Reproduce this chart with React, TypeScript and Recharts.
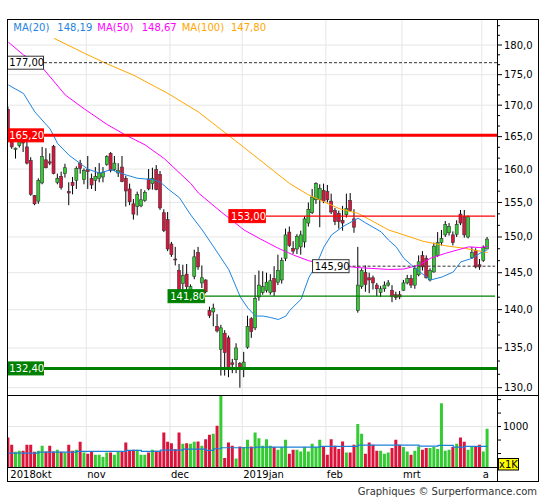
import React from "react";
import {
  ComposedChart,
  Bar,
  Line,
  XAxis,
  YAxis,
  ReferenceLine,
  Cell,
} from "recharts";

// daily candles, 3 Oct 2018 .. 2 Apr 2019
const OPEN = [
  169.3, 164.2, 163.0, 163.6, 164.3, 163.4, 161.3, 156.0, 155.2, 157.9,
  161.4, 161.1, 163.5, 158.0, 158.9, 159.3, 156.6, 158.0, 158.3, 160.9,
  158.4, 159.9, 158.6, 158.3, 158.6, 158.8, 160.7, 162.4, 159.9, 159.4,
  160.3, 158.6, 157.0, 154.8, 154.4, 154.5, 155.3, 158.5, 157.8, 159.9,
  159.2, 153.5, 152.5, 149.0, 146.9, 145.3, 143.5, 144.8, 142.6, 144.5,
  147.8, 143.6, 144.0, 139.9, 139.7, 137.8, 134.8, 136.9, 136.3, 133.1,
  133.5, 133.0, 132.5, 135.1, 138.8, 137.6, 141.7, 142.3, 142.6, 142.3,
  144.2, 143.7, 144.0, 147.0, 150.7, 148.4, 148.3, 148.6, 149.3, 152.0,
  153.5, 155.4, 155.4, 156.8, 156.6, 155.2, 153.8, 153.4, 152.4, 153.2,
  155.3, 152.6, 139.9, 143.1, 145.0, 144.3, 144.3, 143.3, 142.3, 142.8,
  143.3, 142.6, 142.0, 142.0, 142.6, 143.6, 144.2, 143.3, 144.7, 147.4,
  147.0, 144.0, 145.1, 147.4, 149.2, 150.3, 150.6, 150.3, 150.4, 153.3,
  152.9, 150.0, 147.1, 148.1, 146.1, 146.7, 148.3,
];
const HIGH = [
  169.8, 164.6, 163.3, 164.8, 165.2, 164.2, 161.8, 156.1, 158.6, 163.4,
  163.2, 162.4, 163.7, 159.3, 159.6, 160.8, 158.0, 158.8, 160.4, 161.4,
  160.1, 162.0, 159.3, 160.3, 160.9, 160.3, 162.1, 162.6, 162.0, 160.9,
  162.0, 159.0, 157.8, 155.5, 156.6, 157.0, 156.8, 160.0, 160.2, 160.6,
  159.7, 154.0, 153.6, 149.3, 148.6, 146.2, 146.1, 146.2, 143.4, 148.2,
  148.6, 146.0, 144.1, 140.4, 140.8, 139.4, 138.0, 137.3, 136.6, 133.6,
  135.6, 133.2, 134.5, 139.2, 139.0, 144.7, 145.3, 145.2, 145.0, 144.8,
  145.9, 147.5, 147.1, 151.2, 151.5, 149.4, 150.4, 150.9, 153.0, 155.0,
  157.0, 158.0, 157.7, 157.8, 157.6, 156.3, 154.2, 153.8, 154.5, 156.3,
  156.4, 154.0, 148.6, 145.6, 146.0, 145.0, 144.6, 143.6, 143.2, 143.8,
  144.0, 143.3, 142.4, 142.5, 144.0, 144.7, 144.7, 146.0, 147.4, 148.0,
  147.4, 145.6, 149.2, 150.7, 151.0, 152.3, 152.0, 150.8, 152.4, 153.9,
  153.9, 153.1, 148.6, 148.4, 146.9, 148.8, 150.0,
];
const LOW = [
  164.5, 163.1, 161.6, 163.3, 162.6, 160.7, 156.0, 154.6, 154.8, 157.7,
  160.1, 160.6, 159.2, 157.7, 156.9, 158.7, 154.6, 156.2, 157.0, 159.3,
  157.7, 157.0, 157.0, 156.7, 158.0, 158.0, 160.5, 159.5, 159.7, 158.8,
  158.0, 154.4, 154.6, 152.5, 153.1, 154.3, 155.1, 156.8, 156.9, 156.8,
  153.9, 150.7, 148.0, 147.2, 146.0, 142.0, 142.5, 142.5, 142.3, 144.1,
  145.4, 142.9, 142.2, 138.9, 137.8, 137.0, 131.5, 131.5, 131.3, 131.8,
  131.8, 130.0, 131.3, 134.9, 136.3, 137.3, 141.2, 142.0, 142.3, 142.0,
  141.8, 143.3, 143.5, 146.6, 148.6, 147.6, 147.6, 147.5, 148.5, 151.5,
  153.3, 154.8, 151.4, 154.9, 155.0, 153.3, 151.7, 151.2, 150.9, 152.8,
  153.6, 150.6, 139.6, 142.8, 142.4, 142.2, 142.7, 141.8, 141.7, 142.4,
  143.1, 141.0, 141.3, 141.4, 142.5, 143.4, 142.9, 142.8, 144.5, 145.3,
  144.2, 143.8, 145.0, 147.2, 148.8, 150.0, 150.2, 148.8, 150.0, 151.7,
  149.9, 149.8, 146.9, 145.6, 145.4, 146.5, 148.3,
];
const CLOSE = [
  165.0, 163.4, 163.2, 164.2, 164.0, 160.9, 156.2, 154.8, 158.3, 161.9,
  160.2, 160.9, 159.3, 158.6, 157.2, 160.2, 156.4, 157.5, 160.1, 160.1,
  159.8, 159.6, 157.6, 158.9, 159.4, 159.5, 161.9, 159.8, 160.9, 159.8,
  158.1, 156.7, 155.1, 153.3, 156.2, 155.4, 156.5, 157.0, 158.6, 156.9,
  154.2, 150.9, 148.3, 147.5, 146.8, 142.6, 144.6, 143.1, 143.1, 147.2,
  145.8, 144.3, 142.4, 139.2, 140.2, 137.2, 137.6, 134.4, 132.3, 132.9,
  135.0, 132.5, 133.2, 137.8, 137.1, 141.5, 143.3, 143.1, 143.7, 143.9,
  142.4, 145.3, 146.7, 150.3, 148.8, 148.0, 150.1, 150.3, 152.6, 154.0,
  155.8, 157.8, 157.1, 155.2, 155.4, 153.6, 152.2, 152.2, 152.0, 154.1,
  153.8, 151.4, 143.3, 145.3, 143.4, 144.0, 143.6, 142.8, 142.8, 143.3,
  143.6, 141.8, 141.6, 141.7, 143.6, 144.2, 143.3, 145.6, 146.5, 145.8,
  144.3, 145.3, 148.7, 149.2, 149.8, 151.8, 151.5, 149.2, 151.8, 152.0,
  150.3, 152.9, 147.8, 145.8, 145.8, 148.5, 149.7,
];
// volume, thousands of shares
const VOLUME = [
  730, 549, 377, 402, 402, 549, 549, 377, 402, 525,
  385, 525, 385, 426, 377, 361, 549, 402, 426, 623,
  361, 328, 385, 303, 303, 246, 361, 361, 303, 385,
  385, 607, 402, 426, 426, 303, 303, 361, 426, 402,
  402, 853, 623, 590, 443, 853, 574, 590, 574, 623,
  631, 525, 689, 795, 820, 1017, 1763, 221, 607, 525,
  213, 508, 492, 672, 508, 853, 713, 525, 689, 525,
  492, 426, 492, 672, 328, 426, 426, 385, 492, 385,
  574, 492, 672, 492, 303, 689, 525, 443, 631, 361,
  361, 549, 1066, 820, 328, 607, 549, 402, 402, 328,
  361, 467, 672, 549, 492, 385, 303, 402, 508, 426,
  467, 467, 492, 443, 1574, 402, 426, 492, 574, 730,
  623, 426, 508, 492, 549, 385, 943,
];

// moving averages: [day index, value]
const MA20_PTS = [
  [0, 173.3], [4, 171.9], [7, 168.9], [11, 166.2], [13, 163.9], [16, 162.1],
  [19, 160.8], [21, 159.95], [24, 159.4], [27, 159.9], [31, 159.1], [34, 158.6],
  [38, 158.4], [40, 158.0], [42, 157.0], [45, 155.7], [48, 153.15], [51, 151.0],
  [54, 148.6], [58, 145.4], [61, 141.7], [63, 140.2], [65, 139.15], [67, 139.15],
  [69, 138.95], [71, 138.7], [73, 139.15], [74, 139.9], [77, 141.4], [79, 144.3],
  [81, 146.1], [83, 148.6], [85, 150.3], [88, 151.5], [92, 152.7], [94, 152.0],
  [98, 150.75], [100, 149.55], [102, 148.6], [104, 147.0], [107, 145.6],
  [110, 144.4], [111, 144.0], [114, 144.4], [117, 145.1], [119, 146.5],
  [122, 147.0], [124, 147.7], [126, 148.19],
];
const MA50_PTS = [
  [0, 180.5], [4, 178.3], [8, 176.9], [15, 171.65], [20, 169.4], [26, 166.9],
  [31, 165.2], [36, 163.7], [41, 161.6], [48, 157.8], [50, 156.4], [56, 153.6],
  [62, 151.0], [66, 149.8], [71, 148.4], [75, 147.45], [79, 146.65], [84, 146.15],
  [92, 145.7], [100, 145.45], [104, 145.5], [108, 146.05], [111, 147.0],
  [115, 147.7], [118, 148.15], [121, 148.6], [124, 148.5], [126, 148.67],
];
const MA100_PTS = [
  [12, 181.15], [20, 178.6], [26, 176.8], [33, 174.9], [42, 171.9], [50, 168.9],
  [62, 163.3], [74, 157.8], [79, 156.1], [83, 155.1], [87, 154.1], [92, 153.4],
  [96, 152.2], [100, 151.0], [104, 150.3], [109, 149.4], [115, 148.75],
  [120, 148.4], [126, 147.8],
];
const VOL_MA_PTS = [
  [0, 344], [8, 369], [18, 385], [31, 410], [35, 385], [40, 418], [46, 443],
  [52, 410], [54, 451], [56, 476], [65, 492], [82, 508], [92, 541], [108, 517],
  [113, 533], [117, 492], [120, 508], [126, 508],
];

const MONTH_STARTS = [0, 21, 43, 62, 84, 104, 125];
const MONTH_LABELS = ["2018okt", "nov", "dec", "2019jan", "feb", "mrt", "a"];
const PRICE_MAJOR = [130, 135, 140, 145, 150, 155, 160, 165, 170, 175, 180];
const VOL_TICKS = [333.33, 666.67, 1000, 1333.33, 1666.67];

const GREEN = "#33cc33";
const RED = "#dc143c";
const FONT = "DejaVu Sans";

const N = OPEN.length;
const rows = Array.from({ length: N + 2 }, (_, i) => ({
  i,
  o: i < N ? OPEN[i] : null,
  h: i < N ? HIGH[i] : null,
  l: i < N ? LOW[i] : null,
  c: i < N ? CLOSE[i] : null,
  v: i < N ? VOLUME[i] : null,
  ma20: null,
  ma50: null,
  ma100: null,
  vma: null,
}));
MA20_PTS.forEach(([k, v]) => (rows[k].ma20 = v));
MA50_PTS.forEach(([k, v]) => (rows[k].ma50 = v));
MA100_PTS.forEach(([k, v]) => (rows[k].ma100 = v));
VOL_MA_PTS.forEach(([k, v]) => (rows[k].vma = v));

const priceTicks = PRICE_MAJOR.flatMap((m) => [m, m + 5 / 3, m + 10 / 3]);

const Candle = (props: any) => {
  const { x, y, width, height, payload } = props;
  if (!payload || payload.o == null) return null;
  const { o, h, l, c } = payload;
  const top = Math.min(y, y + height);
  const bot = Math.max(y, y + height);
  const span = Math.log(h) - Math.log(l);
  const toY = (v: number) =>
    span > 0 ? top + ((Math.log(h) - Math.log(v)) / span) * (bot - top) : top;
  const cx = x + width / 2;
  const yo = toY(o);
  const yc = toY(c);
  const bh = Math.max(1, Math.abs(yc - yo));
  return (
    <g>
      <line x1={cx} x2={cx} y1={top} y2={bot} stroke="#000" strokeWidth={1} />
      <rect
        x={cx - 1.5}
        y={Math.min(yo, yc)}
        width={3}
        height={bh}
        fill={c >= o ? GREEN : RED}
        stroke="#333"
        strokeWidth={0.6}
      />
    </g>
  );
};

const PriceTick = (props: any) => {
  const { x, y, payload } = props;
  const v = payload.value;
  const major = Math.abs(v - Math.round(v / 5) * 5) < 0.01;
  return (
    <g>
      <line x1={x} x2={x + (major ? 5 : 3)} y1={y} y2={y} stroke="#000" />
      {major && (
        <text x={x + 7} y={y + 3.5} fontSize={10} fontFamily={FONT} fill="#000">
          {v.toFixed(1).replace(".", ",")}
        </text>
      )}
    </g>
  );
};

const VolTick = (props: any) => {
  const { x, y, payload } = props;
  const v = payload.value;
  return (
    <g>
      <line x1={x} x2={x + 4} y1={y} y2={y} stroke="#000" />
      {Math.round(v) === 1000 && (
        <text x={x + 6} y={y + 3.5} fontSize={10} fontFamily={FONT} fill="#000">
          1000
        </text>
      )}
    </g>
  );
};

const MonthTick = (props: any) => {
  const { x, y, payload } = props;
  const k = MONTH_STARTS.indexOf(payload.value);
  if (k < 0) return null;
  return (
    <text
      x={k === 0 ? x + 2 : x - 0.9}
      y={y + 10.5}
      fontSize={10}
      fontFamily={FONT}
      fill="#000"
    >
      {MONTH_LABELS[k]}
    </text>
  );
};

const LevelTag = (props: any) => {
  const { viewBox, text, bg, color, border } = props;
  if (!viewBox) return null;
  const x = Math.max(viewBox.x, 7);
  const y = viewBox.y;
  return (
    <g>
      <rect
        x={x}
        y={y - 6.5}
        width={36.5}
        height={13}
        fill={bg}
        stroke={border || bg}
        strokeWidth={1}
      />
      <text x={x + 2.2} y={y + 3.6} fontSize={10} fontFamily={FONT} fill={color}>
        {text}
      </text>
    </g>
  );
};

const GRID = "#e6e6e6";
const LAST = N + 1;

export default function App() {
  return (
    <div
      style={{
        position: "absolute",
        left: 0,
        top: 0,
        width: 545,
        height: 500,
        background: "#fff",
        fontFamily: FONT,
      }}
    >
      <div style={{ position: "absolute", left: 0, top: 0 }}>
        <ComposedChart
          width={545}
          height={400}
          data={rows}
          margin={{ top: 19, right: 6, bottom: 5, left: 6.4 }}
        >
          <XAxis dataKey="i" type="category" hide />
          <YAxis
            orientation="right"
            width={42}
            scale="log"
            type="number"
            domain={[129.1, 184.5]}
            allowDataOverflow
            ticks={priceTicks}
            interval={0}
            tick={<PriceTick />}
            tickLine={false}
            axisLine={false}
            tickSize={0}
            tickMargin={0}
          />
          {PRICE_MAJOR.map((p) => (
            <ReferenceLine key={"h" + p} y={p} stroke={GRID} zIndex={-100} />
          ))}
          {MONTH_STARTS.slice(1).map((m) => (
            <ReferenceLine key={"v" + m} x={m} position="start" stroke={GRID} zIndex={-100} />
          ))}
          <Bar
            dataKey={(d: any) => (d.o == null ? null : [d.l, d.h])}
            barSize={3}
            shape={(p: any) => <Candle {...p} />}
            isAnimationActive={false}
          />
          <Line
            dataKey="ma100"
            stroke="#ffa500"
            strokeWidth={1}
            dot={false}
            connectNulls
            type="linear"
            isAnimationActive={false}
          />
          <Line
            dataKey="ma50"
            stroke="#ff00ff"
            strokeWidth={1}
            dot={false}
            connectNulls
            type="linear"
            isAnimationActive={false}
          />
          <Line
            dataKey="ma20"
            stroke="#1e84e0"
            strokeWidth={1}
            dot={false}
            connectNulls
            type="linear"
            isAnimationActive={false}
          />
          <ReferenceLine
            y={177}
            stroke="#333"
            strokeDasharray="3 2"
            label={<LevelTag text="177,00" bg="#fff" color="#000" border="#333" />}
          />
          <ReferenceLine
            y={165.2}
            stroke="#ff0000"
            strokeWidth={3}
            label={<LevelTag text="165,20" bg="#ff0000" color="#fff" />}
          />
          <ReferenceLine
            segment={[{ x: 58, y: 153 }, { x: LAST, y: 153 }]}
            stroke="#ff0000"
            strokeWidth={1.2}
            label={<LevelTag text="153,00" bg="#ff0000" color="#fff" />}
          />
          <ReferenceLine
            segment={[{ x: 80, y: 145.9 }, { x: LAST, y: 145.9 }]}
            stroke="#333"
            strokeDasharray="3 2"
            label={<LevelTag text="145,90" bg="#fff" color="#000" border="#333" />}
          />
          <ReferenceLine
            segment={[{ x: 42, y: 141.8 }, { x: LAST, y: 141.8 }]}
            stroke="#008000"
            strokeWidth={1.2}
            label={<LevelTag text="141,80" bg="#008000" color="#fff" />}
          />
          <ReferenceLine
            y={132.4}
            stroke="#008000"
            strokeWidth={3}
            label={<LevelTag text="132,40" bg="#008000" color="#fff" />}
          />
        </ComposedChart>
      </div>

      <div style={{ position: "absolute", left: 0, top: 394 }}>
        <ComposedChart
          width={545}
          height={88}
          data={rows}
          margin={{ top: 1, right: 6, bottom: 0, left: 6.4 }}
        >
          <XAxis
            dataKey="i"
            type="category"
            height={15}
            ticks={MONTH_STARTS}
            interval={0}
            tick={<MonthTick />}
            axisLine={false}
            tickLine={false}
            tickSize={0}
            tickMargin={0}
          />
          <YAxis
            orientation="right"
            width={42}
            type="number"
            domain={[0, 1780]}
            allowDataOverflow
            ticks={VOL_TICKS}
            interval={0}
            tick={<VolTick />}
            tickLine={false}
            axisLine={false}
            tickSize={0}
            tickMargin={0}
          />
          <ReferenceLine y={1000} stroke={GRID} zIndex={-100} />
          {MONTH_STARTS.slice(1).map((m) => (
            <ReferenceLine key={"vv" + m} x={m} position="start" stroke={GRID} zIndex={-100} />
          ))}
          <Bar dataKey="v" barSize={3} isAnimationActive={false}>
            {rows.map((r) => (
              <Cell key={r.i} fill={r.c != null && r.c >= r.o ? GREEN : RED} />
            ))}
          </Bar>
          <Line
            dataKey="vma"
            type="stepAfter"
            stroke="#1e7fd8"
            strokeWidth={1.2}
            dot={false}
            connectNulls
            isAnimationActive={false}
          />
        </ComposedChart>
      </div>

      <svg
        width={545}
        height={500}
        style={{ position: "absolute", left: 0, top: 0, pointerEvents: "none" }}
      >
        <rect x={0} y={19} width={7} height={464} fill="#fff" />
        <rect x={7.5} y={19.5} width={531} height={462} fill="none" stroke="#000" />
        <line x1={497.5} x2={497.5} y1={19.5} y2={481.5} stroke="#000" />
        <line x1={7.5} x2={538.5} y1={395.5} y2={395.5} stroke="#000" />
        <line x1={7.5} x2={497.5} y1={467.5} y2={467.5} stroke="#000" />
        <g fontFamily={FONT} fontSize={10}>
          <text x={13.3} y={30.5} fill="#1e84e0">MA(20)</text>
          <text x={57.3} y={30.5} fill="#1e84e0">148,19</text>
          <text x={97.3} y={30.5} fill="#ff00ff">MA(50)</text>
          <text x={141.7} y={30.5} fill="#ff00ff">148,67</text>
          <text x={181.7} y={30.5} fill="#ffa500">MA(100)</text>
          <text x={231} y={30.5} fill="#ffa500">147,80</text>
        </g>
        <rect x={498.5} y={458.5} width={20} height={11.5} fill="#ffff00" stroke="#000" />
        <text x={508.5} y={467.7} fontSize={10} fontFamily={FONT} textAnchor="middle" fill="#000">
          x1K
        </text>
        <text x={537} y={494.5} fontSize={10} fontFamily={FONT} textAnchor="end" fill="#333">
          Graphiques © Surperformance.com
        </text>
      </svg>
    </div>
  );
}
